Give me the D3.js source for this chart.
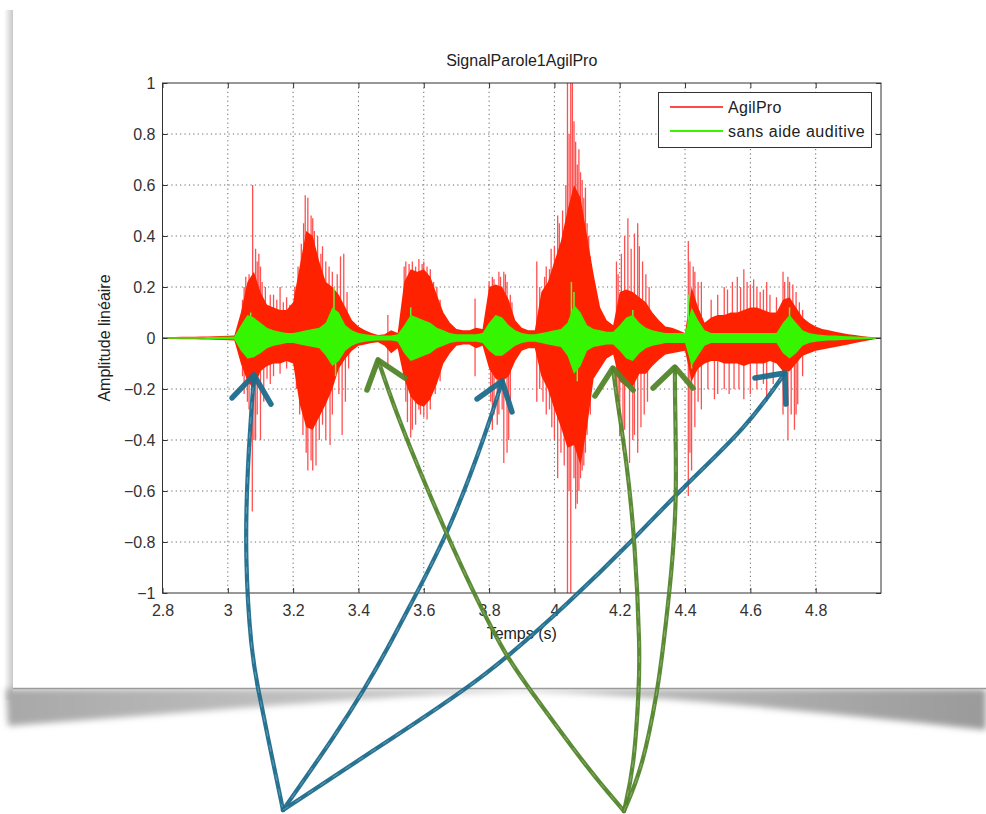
<!DOCTYPE html>
<html><head><meta charset="utf-8">
<script src="https://cdn.jsdelivr.net/npm/d3@7"></script>
<style>body{margin:0;background:#fff;} svg{display:block;font-family:"Liberation Sans",Arial,sans-serif;}</style>
</head><body><svg id="c" width="986" height="814"></svg>
<script>
// ---------- data ----------
const chartTitle = "SignalParole1AgilPro";
const xLabel = "Temps (s)";
const yLabel = "Amplitude linéaire";
const seriesNames = ["AgilPro", "sans aide auditive"];
const xTicks = [2.8, 3, 3.2, 3.4, 3.6, 3.8, 4, 4.2, 4.4, 4.6, 4.8];
const yTicks = [-1, -0.8, -0.6, -0.4, -0.2, 0, 0.2, 0.4, 0.6, 0.8, 1];
const tStart = 2.8, tStep = 0.02;   // envelope sampling (s)

// AgilPro (red) envelope, upper / lower
const redHi = [
 0.004,0.004,0.004,0.005,0.005,0.005,0.006,0.006,0.007,0.008,
 0.009,0.01,0.10,0.22,0.26,0.18,0.13,0.12,0.11,0.11,
 0.14,0.28,0.42,0.40,0.30,0.22,0.20,0.17,0.12,0.07,
 0.045,0.03,0.02,0.012,0.015,0.03,0.02,0.22,0.27,0.26,
 0.27,0.24,0.17,0.10,0.06,0.035,0.03,0.03,0.04,0.035,
 0.20,0.21,0.20,0.15,0.07,0.04,0.03,0.03,0.18,0.22,
 0.30,0.38,0.50,0.60,0.55,0.40,0.25,0.12,0.07,0.05,
 0.18,0.19,0.18,0.16,0.14,0.10,0.07,0.045,0.04,0.03,
 0.02,0.20,0.12,0.06,0.08,0.09,0.09,0.10,0.10,0.11,
 0.12,0.12,0.11,0.10,0.10,0.15,0.16,0.12,0.08,0.06,
 0.045,0.035,0.03,0.025,0.02,0.015,0.012,0.008,0.005,0.003,
 0.003];
const redLo = [
 -0.004,-0.004,-0.004,-0.005,-0.005,-0.005,-0.006,-0.006,-0.007,-0.008,
 -0.009,-0.01,-0.10,-0.17,-0.20,-0.13,-0.11,-0.10,-0.10,-0.09,
 -0.10,-0.26,-0.35,-0.36,-0.31,-0.26,-0.20,-0.12,-0.08,-0.05,
 -0.03,-0.025,-0.02,-0.017,-0.03,-0.06,-0.04,-0.16,-0.23,-0.26,
 -0.27,-0.24,-0.18,-0.10,-0.06,-0.03,-0.025,-0.025,-0.04,-0.03,
 -0.12,-0.16,-0.17,-0.15,-0.09,-0.05,-0.04,-0.04,-0.15,-0.20,
 -0.28,-0.35,-0.43,-0.42,-0.50,-0.35,-0.16,-0.12,-0.08,-0.065,
 -0.17,-0.19,-0.19,-0.14,-0.14,-0.11,-0.085,-0.065,-0.06,-0.055,
 -0.05,-0.17,-0.12,-0.10,-0.09,-0.09,-0.10,-0.10,-0.10,-0.11,
 -0.10,-0.10,-0.10,-0.09,-0.10,-0.13,-0.13,-0.10,-0.07,-0.06,
 -0.05,-0.045,-0.04,-0.035,-0.03,-0.025,-0.02,-0.015,-0.01,-0.005,
 -0.003];
// sans aide auditive (green) envelope, upper / lower
const greenHi = [
 0.003,0.003,0.003,0.003,0.003,0.003,0.003,0.004,0.004,0.005,
 0.005,0.006,0.05,0.09,0.08,0.06,0.04,0.03,0.025,0.02,
 0.02,0.025,0.03,0.035,0.04,0.06,0.12,0.10,0.05,0.03,
 0.02,0.015,0.012,0.01,0.01,0.01,0.015,0.05,0.09,0.08,
 0.07,0.06,0.04,0.03,0.02,0.015,0.015,0.015,0.015,0.02,
 0.06,0.09,0.08,0.05,0.03,0.02,0.015,0.015,0.02,0.025,
 0.03,0.035,0.06,0.13,0.10,0.05,0.035,0.03,0.025,0.025,
 0.05,0.08,0.09,0.06,0.04,0.03,0.025,0.02,0.02,0.02,
 0.02,0.12,0.07,0.03,0.02,0.02,0.02,0.02,0.02,0.02,
 0.02,0.02,0.02,0.02,0.02,0.06,0.09,0.06,0.03,0.02,
 0.015,0.012,0.01,0.01,0.008,0.007,0.006,0.005,0.004,0.003,
 0.003];
const greenLo = [
 -0.003,-0.003,-0.003,-0.003,-0.003,-0.003,-0.003,-0.004,-0.004,-0.005,
 -0.005,-0.006,-0.05,-0.08,-0.075,-0.06,-0.04,-0.03,-0.025,-0.02,
 -0.02,-0.025,-0.03,-0.035,-0.04,-0.07,-0.11,-0.09,-0.05,-0.03,
 -0.02,-0.015,-0.012,-0.01,-0.01,-0.01,-0.015,-0.06,-0.09,-0.08,
 -0.07,-0.06,-0.04,-0.03,-0.02,-0.015,-0.015,-0.015,-0.015,-0.02,
 -0.05,-0.07,-0.07,-0.05,-0.03,-0.02,-0.015,-0.015,-0.02,-0.025,
 -0.03,-0.035,-0.07,-0.14,-0.11,-0.05,-0.035,-0.03,-0.025,-0.025,
 -0.05,-0.08,-0.09,-0.06,-0.04,-0.03,-0.025,-0.02,-0.02,-0.02,
 -0.02,-0.11,-0.07,-0.03,-0.02,-0.02,-0.02,-0.02,-0.02,-0.02,
 -0.02,-0.02,-0.02,-0.02,-0.02,-0.06,-0.08,-0.06,-0.03,-0.02,
 -0.015,-0.012,-0.01,-0.01,-0.008,-0.007,-0.006,-0.005,-0.004,-0.003,
 -0.003];
// isolated peaks of the AgilPro trace [time, amplitude]
const redPeaks = [
 [3.045,0.15],[3.05,0.20],[3.055,0.24],[3.065,0.25],[3.076,0.60],[3.085,0.35],[3.09,0.30],[3.095,0.33],[3.10,0.28],
 [3.105,0.22],[3.115,0.20],[3.13,0.17],[3.14,0.17],[3.15,0.15],[3.16,0.20],[3.17,0.14],[3.18,0.16],[3.19,0.13],
 [3.205,0.20],[3.215,0.28],[3.225,0.37],[3.232,0.45],[3.237,0.56],[3.245,0.55],[3.255,0.48],[3.26,0.47],[3.265,0.42],
 [3.275,0.40],[3.285,0.33],[3.29,0.36],[3.30,0.30],[3.31,0.28],[3.32,0.26],[3.335,0.25],[3.345,0.32],[3.355,0.33],[3.365,0.18],
 [3.49,0.09],[3.54,0.28],[3.545,0.30],[3.555,0.29],[3.565,0.30],[3.575,0.28],[3.585,0.31],[3.595,0.29],[3.60,0.30],
 [3.61,0.28],[3.62,0.27],[3.63,0.22],[3.64,0.20],[3.65,0.15],[3.757,0.155],
 [3.80,0.22],[3.81,0.24],[3.815,0.23],[3.83,0.26],[3.835,0.24],[3.845,0.26],[3.85,0.25],[3.855,0.22],[3.865,0.17],[3.87,0.14],
 [3.946,0.30],[3.955,0.20],[3.97,0.24],[3.975,0.28],[3.985,0.27],[3.99,0.35],[4.00,0.36],[4.01,0.48],[4.015,0.45],[4.025,0.50],
 [4.035,0.60],[4.04,1.05],[4.045,0.80],[4.05,1.05],[4.055,1.05],[4.06,0.85],[4.065,0.77],[4.07,0.68],[4.075,0.74],[4.08,0.65],
 [4.085,0.62],[4.09,0.55],[4.095,0.59],[4.10,0.45],[4.105,0.40],[4.11,0.32],
 [4.19,0.30],[4.195,0.25],[4.205,0.33],[4.215,0.40],[4.225,0.47],[4.235,0.35],[4.245,0.41],[4.255,0.45],[4.26,0.36],[4.27,0.30],[4.28,0.25],[4.29,0.20],
 [4.41,0.38],[4.415,0.30],[4.425,0.28],[4.43,0.26],[4.44,0.22],[4.45,0.22],[4.48,0.15],[4.50,0.17],[4.52,0.20],[4.53,0.19],[4.545,0.22],
 [4.56,0.24],[4.57,0.20],[4.58,0.27],[4.59,0.22],[4.60,0.21],[4.61,0.23],[4.62,0.20],[4.63,0.18],[4.64,0.19],[4.65,0.22],[4.66,0.17],[4.68,0.16],
 [4.70,0.26],[4.705,0.22],[4.715,0.24],[4.72,0.22],[4.73,0.21],[4.74,0.18],[4.75,0.14],[4.76,0.11],
 [3.045,-0.15],[3.05,-0.22],[3.06,-0.25],[3.065,-0.28],[3.075,-0.68],[3.08,-0.40],[3.085,-0.40],[3.09,-0.30],[3.10,-0.40],[3.11,-0.25],
 [3.12,-0.16],[3.13,-0.18],[3.14,-0.15],[3.16,-0.14],[3.18,-0.12],
 [3.21,-0.20],[3.22,-0.30],[3.23,-0.38],[3.24,-0.45],[3.245,-0.52],[3.255,-0.48],[3.26,-0.52],[3.27,-0.50],[3.28,-0.40],[3.29,-0.34],
 [3.30,-0.40],[3.313,-0.42],[3.32,-0.30],[3.34,-0.22],[3.35,-0.38],[3.36,-0.25],[3.37,-0.12],
 [3.49,-0.11],[3.545,-0.25],[3.55,-0.33],[3.56,-0.39],[3.565,-0.36],[3.575,-0.34],[3.585,-0.28],[3.59,-0.30],[3.60,-0.31],[3.61,-0.32],
 [3.62,-0.28],[3.635,-0.22],[3.65,-0.17],[3.757,-0.15],
 [3.805,-0.25],[3.81,-0.36],[3.815,-0.30],[3.825,-0.34],[3.83,-0.30],[3.84,-0.28],[3.845,-0.49],[3.855,-0.45],[3.86,-0.40],[3.865,-0.25],
 [3.946,-0.25],[3.955,-0.20],[3.965,-0.25],[3.975,-0.30],[3.985,-0.28],[3.992,-0.35],[4.00,-0.40],[4.01,-0.55],[4.02,-0.45],[4.03,-0.50],
 [4.04,-1.05],[4.045,-0.60],[4.05,-1.05],[4.06,-0.55],[4.065,-0.67],[4.07,-0.65],[4.075,-0.60],[4.08,-0.55],[4.085,-0.52],[4.09,-0.50],
 [4.095,-0.45],[4.10,-0.38],[4.11,-0.30],
 [4.19,-0.25],[4.195,-0.30],[4.20,-0.38],[4.21,-0.44],[4.215,-0.36],[4.23,-0.49],[4.24,-0.40],[4.245,-0.38],[4.255,-0.45],[4.265,-0.35],
 [4.275,-0.30],[4.285,-0.25],
 [4.41,-0.62],[4.415,-0.45],[4.42,-0.52],[4.43,-0.35],[4.44,-0.25],[4.45,-0.28],[4.47,-0.20],[4.49,-0.24],[4.50,-0.22],[4.52,-0.20],
 [4.535,-0.22],[4.55,-0.20],[4.565,-0.20],[4.58,-0.24],[4.60,-0.22],[4.62,-0.20],[4.64,-0.18],[4.65,-0.25],[4.67,-0.18],
 [4.70,-0.30],[4.715,-0.40],[4.725,-0.30],[4.735,-0.36],[4.74,-0.30],[4.745,-0.26],[4.76,-0.15]];
// isolated peaks of the green trace
const greenPeaks = [[3.07,0.10],[3.325,0.20],[3.33,-0.15],[3.56,0.12],[4.052,0.22],[4.06,0.18],[4.07,-0.17],[4.24,0.11],[4.41,0.17],[4.42,-0.12],[4.72,0.12]];

// hand-drawn annotation arrows, in data coordinates [time, amplitude]
const blueArrows = [
 {shaft:[[3.169,-1.851],[3.120,-1.549],[3.092,-1.373],[3.071,-1.224],[3.053,-0.871],[3.059,-0.518],[3.080,-0.145]],
  head:[[3.013,-0.235],[3.080,-0.145],[3.132,-0.259]]},
 {shaft:[[3.169,-1.851],[3.334,-1.549],[3.420,-1.373],[3.487,-1.224],[3.567,-1.027],[3.680,-0.753],[3.794,-0.361],[3.840,-0.169]],
  head:[[3.763,-0.239],[3.840,-0.169],[3.870,-0.290]]},
 {shaft:[[3.169,-1.851],[3.527,-1.549],[3.790,-1.329],[4.054,-1.027],[4.241,-0.792],[4.391,-0.588],[4.590,-0.349],[4.706,-0.137]],
  head:[[4.614,-0.157],[4.706,-0.137],[4.709,-0.259]]}];
const greenArrows = [
 {shaft:[[4.213,-1.855],[4.097,-1.682],[3.922,-1.373],[3.852,-1.251],[3.732,-0.949],[3.598,-0.557],[3.512,-0.282],[3.460,-0.086]],
  head:[[3.426,-0.204],[3.460,-0.086],[3.542,-0.157]]},
 {shaft:[[4.213,-1.855],[4.244,-1.682],[4.259,-1.373],[4.262,-1.224],[4.247,-0.804],[4.222,-0.490],[4.192,-0.243],[4.179,-0.118]],
  head:[[4.124,-0.227],[4.179,-0.118],[4.241,-0.204]]},
 {shaft:[[4.213,-1.855],[4.271,-1.682],[4.317,-1.373],[4.332,-1.224],[4.360,-0.910],[4.375,-0.624],[4.369,-0.243],[4.369,-0.114]],
  head:[[4.302,-0.196],[4.369,-0.114],[4.424,-0.196]]}];

// ---------- drawing ----------
const svg = d3.select("#c");
const L = 162.5, R = 881, T = 83, B = 593;
const x = d3.scaleLinear().domain([2.8, 5.0]).range([L, R]);
const y = d3.scaleLinear().domain([-1, 1]).range([B, T]);
const tAt = i => tStart + i * tStep;

const defs = svg.append("defs");
defs.append("filter").attr("id","blur").attr("x","-10%").attr("y","-50%").attr("width","120%").attr("height","200%")
  .append("feGaussianBlur").attr("stdDeviation", 3);
defs.append("clipPath").attr("id","plotclip").append("rect")
  .attr("x", L).attr("y", T).attr("width", R - L).attr("height", B - T);
const lg = defs.append("linearGradient").attr("id","leftsh").attr("x1",0).attr("x2",1);
lg.append("stop").attr("offset",0).attr("stop-color","#fff");
lg.append("stop").attr("offset",1).attr("stop-color","#c8c8c8");
const bg = defs.append("linearGradient").attr("id","botsh").attr("x1",0).attr("x2",1);
bg.append("stop").attr("offset",0).attr("stop-color","#a8a8a8");
bg.append("stop").attr("offset",0.35).attr("stop-color","#c4c4c4");
bg.append("stop").attr("offset",0.55).attr("stop-color","#c0c0c0");
bg.append("stop").attr("offset",1).attr("stop-color","#9a9a9a");

// page shadow
svg.append("rect").attr("x",4).attr("y",10).attr("width",9).attr("height",690).attr("fill","url(#leftsh)");
svg.append("path").attr("d","M6,689 L986,689 L986,730 C820,712 640,694 520,691 C400,694 200,712 8,726 Z")
  .attr("fill","url(#botsh)").attr("filter","url(#blur)");
svg.append("rect").attr("x",13).attr("y",0).attr("width",973).attr("height",688).attr("fill","#fff");
svg.append("line").attr("x1",13).attr("x2",986).attr("y1",688.5).attr("y2",688.5).attr("stroke","#9a9a9a").attr("stroke-width",1.5);

// plot background + grid
svg.append("rect").attr("x",L).attr("y",T).attr("width",R-L).attr("height",B-T).attr("fill","#fff");
const grid = svg.append("g").attr("stroke","#666").attr("stroke-width",1).attr("stroke-dasharray","1.2,3.2");
grid.selectAll("line.gx").data(xTicks.filter(d => d > 2.8)).join("line")
  .attr("x1", d => x(d)).attr("x2", d => x(d)).attr("y1", T).attr("y2", B);
grid.selectAll("line.gy").data(yTicks.filter(d => d > -1 && d < 1)).join("line")
  .attr("y1", d => y(d)).attr("y2", d => y(d)).attr("x1", L).attr("x2", R);

// waveforms
const plot = svg.append("g").attr("clip-path","url(#plotclip)");
const idx = d3.range(redHi.length);
const areaOf = (hi, lo) => d3.area().x(i => x(tAt(i))).y0(i => y(lo[i])).y1(i => y(hi[i]));
plot.append("g").attr("stroke","#ff5050").attr("stroke-width",1.3)
  .selectAll("line").data(redPeaks).join("line")
  .attr("x1", d => x(d[0])).attr("x2", d => x(d[0])).attr("y1", y(0)).attr("y2", d => y(d[1]));
plot.append("path").datum(idx).attr("d", areaOf(redHi, redLo)).attr("fill","#ff2200");
plot.append("g").attr("stroke","#5ff53a").attr("stroke-width",1.5)
  .selectAll("line").data(greenPeaks).join("line")
  .attr("x1", d => x(d[0])).attr("x2", d => x(d[0])).attr("y1", y(0)).attr("y2", d => y(d[1]));
plot.append("path").datum(idx).attr("d", areaOf(greenHi, greenLo)).attr("fill","#36f500");

// axes box + ticks (inside, all four sides)
const ax = svg.append("g").attr("stroke","#333").attr("stroke-width",1);
ax.append("rect").attr("x",L).attr("y",T).attr("width",R-L).attr("height",B-T).attr("fill","none");
const xAxB = d3.axisBottom(x).tickValues(xTicks).tickSize(-5).tickFormat(d3.format("~g"));
const xAxT = d3.axisTop(x).tickValues(xTicks).tickSize(-5).tickFormat("");
const yAxL = d3.axisLeft(y).tickValues(yTicks).tickSize(-5).tickFormat(d3.format("~g"));
const yAxR = d3.axisRight(y).tickValues(yTicks).tickSize(-5).tickFormat("");
function styleAxis(g){ g.select(".domain").remove(); g.selectAll(".tick line").attr("stroke","#333");
  g.selectAll(".tick text").attr("fill","#333").attr("font-size",16).attr("font-family","'Liberation Sans',Arial,sans-serif"); }
svg.append("g").attr("transform",`translate(0,${B})`).call(xAxB).call(styleAxis)
  .selectAll(".tick text").attr("dy","1.25em").attr("y",3);
svg.append("g").attr("transform",`translate(0,${T})`).call(xAxT).call(styleAxis);
svg.append("g").attr("transform",`translate(${L},0)`).call(yAxL).call(styleAxis)
  .selectAll(".tick text").attr("x",-7);
svg.append("g").attr("transform",`translate(${R},0)`).call(yAxR).call(styleAxis);

// titles
svg.append("text").attr("x",(L+R)/2).attr("y",66).attr("text-anchor","middle").attr("font-size",16).attr("fill","#222").text(chartTitle);
svg.append("text").attr("x",(L+R)/2).attr("y",639).attr("text-anchor","middle").attr("font-size",16).attr("fill","#222").text(xLabel);
svg.append("text").attr("transform",`translate(110,${(T+B)/2}) rotate(-90)`).attr("text-anchor","middle").attr("font-size",16).attr("fill","#222").text(yLabel);

// legend
const leg = svg.append("g");
leg.append("rect").attr("x",658.5).attr("y",92.5).attr("width",213).attr("height",55).attr("fill","#fff").attr("stroke","#333");
const legColors = ["#ff4a4a", "#36f500"];
seriesNames.forEach((n, i) => {
  const yy = 107 + i * 24;
  leg.append("line").attr("x1",670).attr("x2",723).attr("y1",yy).attr("y2",yy).attr("stroke",legColors[i]).attr("stroke-width",2);
  leg.append("text").attr("x",728).attr("y",yy + 6).attr("font-size",16).attr("fill","#222").attr("letter-spacing", i ? 0.5 : 0.3).text(n);
});

// annotation arrows
const line = d3.line().x(d => x(d[0])).y(d => y(d[1])).curve(d3.curveBasis);
const headLine = d3.line().x(d => x(d[0])).y(d => y(d[1]));
function drawArrows(list, color){
  const g = svg.append("g").attr("fill","none").attr("stroke",color).attr("stroke-linecap","round").attr("stroke-linejoin","round");
  list.forEach(a => {
    g.append("path").attr("d", line(a.shaft)).attr("stroke-width",4.2).attr("opacity",0.95);
    g.append("path").attr("d", line(a.shaft)).attr("stroke","#fff").attr("stroke-width",0.8).attr("stroke-dasharray","6,9").attr("opacity",0.35);
    g.append("path").attr("d", headLine(a.head)).attr("stroke-width",5.5).attr("opacity",0.95);
  });
}
drawArrows(blueArrows, "#1c6c8c");
drawArrows(greenArrows, "#53852b");
</script></body></html>
